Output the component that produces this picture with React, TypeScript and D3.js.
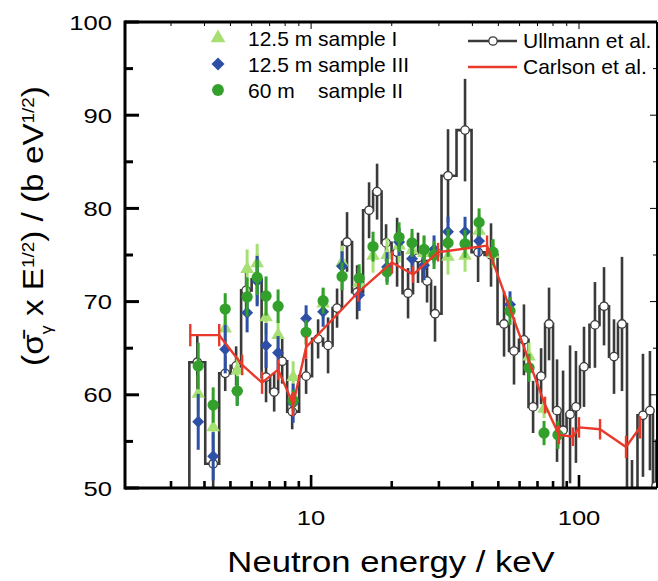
import React, { useEffect, useRef } from 'react';
import * as d3 from 'd3';

// Ullmann et al. — histogram values (keV, value, error)
const ullmannEnergy = [3.76, 4.31, 4.78, 5.25, 5.72, 6.29, 6.79, 7.28, 7.80, 8.50, 9.58, 10.62, 11.57, 12.50, 13.62, 14.85, 16.46, 17.63, 19.05, 20.94, 23.01, 25.07, 27.09, 29.02, 32.44, 37.55, 42.01, 46.95, 52.5, 57.2, 62.3, 67.4, 72.2, 77.3, 82.8, 87.2, 92.6, 97.4, 104.4, 114.7, 124.0, 135.1, 144.7, 157.7, 173.3, 184.0, 193.8];
const ullmannValue = [63.5, 52.6, 62.3, 63.1, 71.2, 72.4, 61.9, 60.3, 63.6, 58.2, 62.0, 66.0, 65.3, 69.3, 76.4, 71.0, 79.8, 81.8, 76.3, 75.3, 70.9, 74.7, 72.2, 68.7, 83.5, 88.4, 75.3, 75.0, 67.6, 64.7, 65.9, 58.7, 62.0, 67.6, 58.3, 56.2, 57.9, 58.7, 63.0, 67.5, 69.5, 64.1, 67.6, 48.0, 57.8, 58.3, 50.2];
const ullmannError = [3.0, 3.2, 1.9, 2.1, 2.7, 2.7, 2.7, 2.1, 2.4, 1.9, 1.9, 2.1, 3.0, 2.1, 3.2, 2.9, 3.0, 3.0, 2.0, 3.7, 2.7, 2.7, 2.3, 3.0, 5.0, 5.5, 3.2, 3.4, 3.5, 3.6, 3.8, 2.8, 3.0, 3.9, 5.5, 6.4, 7.4, 6.0, 4.3, 4.6, 4.2, 4.0, 7.2, 5.0, 6.6, 6.4, 5.0];

// Carlson et al.
const carlsonEnergy = [3.54, 4.54, 5.53, 6.56, 7.53, 8.57, 9.58, 14.98, 20.05, 24.01, 29.77, 45.37, 74.7, 84.2, 94.9, 100.0, 119.8, 149.8, 168.9];
const carlsonValue = [66.4, 66.4, 63.2, 61.3, 62.7, 59.0, 65.1, 71.0, 74.2, 72.9, 75.3, 76.0, 58.9, 55.7, 55.5, 56.5, 56.3, 54.4, 56.5];
const carlsonError = [1.2, 1.2, 1.1, 1.2, 1.1, 1.3, 1.2, 1.0, 1.2, 0.9, 1.0, 1.1, 0.9, 1.0, 1.0, 1.1, 1.1, 1.2, 1.2];

// 12.5 m sample I (triangles)
const sampleIEnergy = [3.79, 4.31, 4.78, 5.30, 5.77, 6.29, 6.79, 7.53, 8.57, 11.09, 13.05, 15.11, 17.03, 19.21, 21.30, 23.81, 26.40, 32.44, 37.55, 42.37, 47.77, 65.09, 74.04];
const sampleIValue = [60.1, 56.5, 67.1, 62.6, 73.5, 74.1, 68.3, 66.4, 61.9, 69.8, 74.2, 72.0, 74.9, 75.0, 76.0, 75.5, 75.2, 74.8, 74.9, 77.6, 75.1, 64.1, 58.5];
const sampleIError = [2.0, 2.0, 1.8, 1.5, 2.1, 2.1, 1.9, 1.6, 1.7, 1.6, 1.8, 1.6, 1.8, 1.8, 1.8, 1.8, 1.8, 1.9, 1.7, 1.7, 1.5, 1.5, 1.0];

// 12.5 m sample III (diamonds)
const sampleIIIEnergy = [3.79, 4.31, 4.78, 5.30, 5.77, 6.29, 6.79, 7.53, 8.57, 9.58, 11.09, 13.05, 15.11, 19.21, 21.30, 23.81, 26.40, 28.77, 32.44, 37.55, 42.37, 55.27];
const sampleIIIValue = [57.1, 53.4, 64.9, 60.4, 68.8, 72.2, 65.3, 64.5, 59.1, 68.2, 68.9, 73.8, 70.7, 73.7, 76.4, 74.6, 73.9, 75.6, 77.5, 77.5, 76.5, 69.7];
const sampleIIIError = [3.0, 2.6, 2.6, 1.5, 2.1, 2.7, 2.4, 1.8, 2.1, 1.4, 1.6, 1.6, 1.7, 1.6, 1.5, 1.5, 1.6, 1.5, 1.6, 1.6, 1.6, 1.4];

// 60 m sample II (circles)
const sampleIIEnergy = [3.79, 4.31, 4.78, 5.30, 5.77, 6.29, 6.79, 7.53, 8.57, 9.58, 11.09, 13.05, 15.11, 17.03, 19.21, 21.30, 23.81, 26.40, 28.77, 32.44, 37.55, 42.37, 47.77, 55.27, 65.09, 74.04, 83.46];
const sampleIIValue = [63.1, 58.9, 69.2, 60.4, 70.5, 72.6, 70.6, 69.5, 59.4, 66.7, 70.1, 72.7, 72.5, 75.9, 73.2, 76.9, 76.3, 75.6, 75.0, 76.3, 76.2, 78.5, 75.3, 69.0, 62.9, 55.9, 55.7];
const sampleIIError = [2.5, 1.9, 1.7, 1.6, 2.1, 1.9, 2.1, 1.8, 1.1, 1.3, 1.4, 1.5, 1.5, 1.6, 1.4, 1.6, 1.5, 1.5, 1.5, 1.5, 1.5, 1.5, 1.4, 1.5, 1.5, 1.3, 1.5];

const yTickValues = [50, 60, 70, 80, 90, 100];
const xTickLabels = [10, 100];

const DARK = '#3a3a3a';
const RED = '#e8392b';
const LIGHT = '#a6df72';
const BLUE = '#2e4fa6';
const GREEN = '#33a02c';

const App = () => {
  const svgRef = useRef<SVGSVGElement>(null);

  useEffect(() => {
    const svg = d3.select(svgRef.current);
    svg.selectAll('*').remove();

    const left = 125, right = 657, top = 22, bottom = 488;
    const x = d3.scaleLog().domain([2.02, 195.5]).range([left, right]);
    const y = d3.scaleLinear().domain([50, 100]).range([bottom, top]);

    svg.append('defs').append('clipPath').attr('id', 'plot-clip')
      .append('rect')
      .attr('x', left).attr('y', top)
      .attr('width', right - left).attr('height', bottom - top);

    const plot = svg.append('g').attr('clip-path', 'url(#plot-clip)');

    // ullmann histogram: bin edges halfway (in log) between centres
    const n = ullmannEnergy.length;
    const edges = [];
    for (let i = 1; i < n; i++) edges[i] = Math.sqrt(ullmannEnergy[i - 1] * ullmannEnergy[i]);
    edges[0] = ullmannEnergy[0] * ullmannEnergy[0] / edges[1];
    edges[n] = ullmannEnergy[n - 1] * ullmannEnergy[n - 1] / edges[n - 1];

    const steps = [{ e: edges[0], v: 40 }]
      .concat(ullmannValue.map((v, i) => ({ e: edges[i], v })))
      .concat([{ e: edges[n], v: ullmannValue[n - 1] }]);

    const stepLine = d3.line<{ e: number, v: number }>()
      .x(d => x(d.e))
      .y(d => y(d.v))
      .curve(d3.curveStepAfter);

    plot.append('path')
      .datum(steps)
      .attr('fill', 'none')
      .attr('stroke', DARK)
      .attr('stroke-width', 2.6)
      .attr('d', stepLine);

    plot.selectAll('.ull-err')
      .data(ullmannEnergy)
      .join('line')
      .attr('x1', d => x(d)).attr('x2', d => x(d))
      .attr('y1', (d, i) => y(ullmannValue[i] - ullmannError[i]))
      .attr('y2', (d, i) => y(ullmannValue[i] + ullmannError[i]))
      .attr('stroke', DARK)
      .attr('stroke-width', 2.6);

    plot.selectAll('.ull-pt')
      .data(ullmannEnergy)
      .join('circle')
      .attr('cx', d => x(d))
      .attr('cy', (d, i) => y(ullmannValue[i]))
      .attr('r', 4.2)
      .attr('fill', 'white')
      .attr('stroke', DARK)
      .attr('stroke-width', 1.3);

    // sample series with error bars
    const drawSeries = (energy, value, error, color, marker) => {
      const g = plot.append('g');
      g.selectAll('line')
        .data(energy)
        .join('line')
        .attr('x1', d => x(d)).attr('x2', d => x(d))
        .attr('y1', (d, i) => y(value[i] - error[i]))
        .attr('y2', (d, i) => y(value[i] + error[i]))
        .attr('stroke', color)
        .attr('stroke-width', 3);
      g.selectAll('path')
        .data(energy)
        .join('path')
        .attr('d', marker)
        .attr('transform', (d, i) => `translate(${x(d)},${y(value[i])})${marker === diamond ? ' rotate(45)' : ''}`)
        .attr('fill', color);
    };

    const triangle = d3.symbol(d3.symbolTriangle, 80)();
    const diamond = d3.symbol(d3.symbolSquare, 72)();
    const circle = d3.symbol(d3.symbolCircle, 100)();

    drawSeries(sampleIEnergy, sampleIValue, sampleIError, LIGHT, triangle);
    drawSeries(sampleIIIEnergy, sampleIIIValue, sampleIIIError, BLUE, diamond);
    drawSeries(sampleIIEnergy, sampleIIValue, sampleIIError, GREEN, circle);

    // carlson line
    plot.selectAll('.carl-err')
      .data(carlsonEnergy)
      .join('line')
      .attr('x1', d => x(d)).attr('x2', d => x(d))
      .attr('y1', (d, i) => y(carlsonValue[i] - carlsonError[i]))
      .attr('y2', (d, i) => y(carlsonValue[i] + carlsonError[i]))
      .attr('stroke', RED)
      .attr('stroke-width', 2.4);

    const carlsonLine = d3.line<number>()
      .x(d => x(d))
      .y((d, i) => y(carlsonValue[i]));

    plot.append('path')
      .datum(carlsonEnergy)
      .attr('fill', 'none')
      .attr('stroke', RED)
      .attr('stroke-width', 2.4)
      .attr('stroke-linejoin', 'round')
      .attr('d', carlsonLine);

    // frame
    const frame = svg.append('g').attr('stroke', 'black');
    frame.append('line').attr('x1', left).attr('x2', right).attr('y1', top).attr('y2', top).attr('stroke-width', 3);
    frame.append('line').attr('x1', left).attr('x2', right).attr('y1', bottom).attr('y2', bottom).attr('stroke-width', 3);
    frame.append('line').attr('x1', left).attr('x2', left).attr('y1', top - 1.5).attr('y2', bottom + 1.5).attr('stroke-width', 3);
    frame.append('line').attr('x1', right).attr('x2', right).attr('y1', top).attr('y2', bottom).attr('stroke-width', 2);

    // ticks
    const xTicks = x.ticks().filter(d => d > 2.02 && d < 195.5);
    const isMajor = d => Math.abs(Math.log10(d) - Math.round(Math.log10(d))) < 1e-9;
    frame.selectAll('.xb')
      .data(xTicks)
      .join('line')
      .attr('x1', d => x(d)).attr('x2', d => x(d))
      .attr('y1', bottom).attr('y2', d => bottom - (isMajor(d) ? 13 : 7))
      .attr('stroke-width', 2.6);
    frame.selectAll('.xt')
      .data(xTicks)
      .join('line')
      .attr('x1', d => x(d)).attr('x2', d => x(d))
      .attr('y1', top).attr('y2', d => top + (isMajor(d) ? 7 : 4))
      .attr('stroke-width', 1);

    const yTicks = d3.range(50, 100.1, 5);
    frame.selectAll('.yl')
      .data(yTicks)
      .join('line')
      .attr('x1', left).attr('x2', d => left + (d % 10 === 0 ? 14 : 8))
      .attr('y1', d => y(d)).attr('y2', d => y(d))
      .attr('stroke-width', 3);
    frame.selectAll('.yr')
      .data(yTicks)
      .join('line')
      .attr('x1', right).attr('x2', d => right - (d % 10 === 0 ? 7 : 4))
      .attr('y1', d => y(d)).attr('y2', d => y(d))
      .attr('stroke-width', 1);

    // tick labels (wide font look)
    const labels = svg.append('g')
      .style('font-family', '"Liberation Sans", Arial, sans-serif')
      .attr('fill', 'black');

    labels.selectAll('.ylab')
      .data(yTickValues)
      .join('text')
      .attr('transform', d => `translate(112,${y(d)}) scale(1.22,1)`)
      .attr('text-anchor', 'end')
      .attr('dy', '0.36em')
      .style('font-size', '21px')
      .text(d => d);

    labels.selectAll('.xlab')
      .data(xTickLabels)
      .join('text')
      .attr('transform', d => `translate(${x(d)},525) scale(1.22,1)`)
      .attr('text-anchor', 'middle')
      .style('font-size', '21px')
      .text(d => d);

    labels.append('text')
      .attr('transform', 'translate(391,572) scale(1.155,1)')
      .attr('text-anchor', 'middle')
      .style('font-size', '30px')
      .text('Neutron energy / keV');

    const ylab = labels.append('text')
      .attr('transform', 'translate(43,226) rotate(-90) scale(1.11,1)')
      .attr('text-anchor', 'middle')
      .style('font-size', '30px');
    ylab.append('tspan').text('(\u03C3\u0304');
    ylab.append('tspan').attr('baseline-shift', 'sub').style('font-size', '16px').text('\u03B3');
    ylab.append('tspan').text(' x E');
    ylab.append('tspan').attr('baseline-shift', 'super').style('font-size', '17px').text('1/2');
    ylab.append('tspan').text(') / (b eV');
    ylab.append('tspan').attr('baseline-shift', 'super').style('font-size', '17px').text('1/2');
    ylab.append('tspan').text(')');

    // legend
    const legend = svg.append('g')
      .style('font-family', '"Liberation Sans", Arial, sans-serif')
      .style('font-size', '21px');

    legend.append('path').attr('d', d3.symbol(d3.symbolTriangle, 95)()).attr('transform', 'translate(218,38)').attr('fill', LIGHT);
    legend.append('path').attr('d', d3.symbol(d3.symbolSquare, 85)()).attr('transform', 'translate(218,64) rotate(45)').attr('fill', BLUE);
    legend.append('path').attr('d', d3.symbol(d3.symbolCircle, 110)()).attr('transform', 'translate(218,90)').attr('fill', GREEN);

    legend.append('text').attr('x', 248).attr('y', 46).text('12.5 m sample I');
    legend.append('text').attr('x', 248).attr('y', 72).text('12.5 m sample III');
    legend.append('text').attr('x', 248).attr('y', 98).text('60 m');
    legend.append('text').attr('x', 318).attr('y', 98).text('sample II');

    legend.append('line').attr('x1', 468).attr('x2', 517).attr('y1', 41).attr('y2', 41)
      .attr('stroke', DARK).attr('stroke-width', 2.6);
    legend.append('circle').attr('cx', 493).attr('cy', 41).attr('r', 4.2)
      .attr('fill', 'white').attr('stroke', DARK).attr('stroke-width', 1.3);
    legend.append('text').attr('x', 523).attr('y', 48).text('Ullmann et al.');

    legend.append('line').attr('x1', 468).attr('x2', 517).attr('y1', 67).attr('y2', 67)
      .attr('stroke', RED).attr('stroke-width', 2.4);
    legend.append('text').attr('x', 523).attr('y', 74).text('Carlson et al.');
  }, []);

  return (
    <svg
      ref={svgRef}
      width={658}
      height={581}
      style={{ position: 'absolute', left: 0, top: 0, background: 'white' }}
    />
  );
};

export default App;
